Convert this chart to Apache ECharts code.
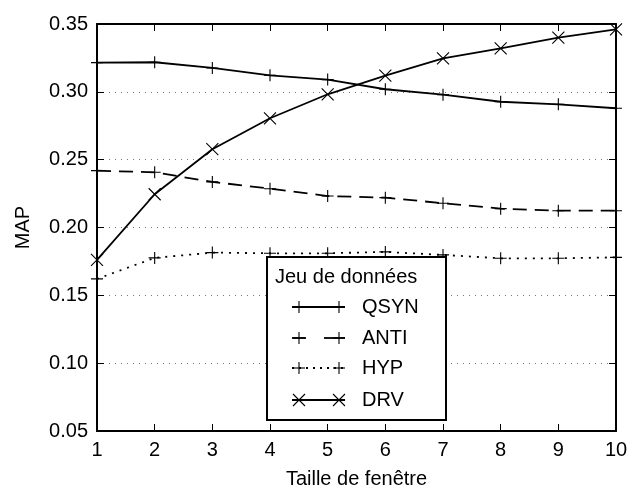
<!DOCTYPE html>
<html><head><meta charset="utf-8">
<script src="https://cdn.jsdelivr.net/npm/echarts@6/dist/echarts.min.js"></script>
<style>html,body{margin:0;padding:0;background:#fff}#c{width:631px;height:489px}</style>
</head><body><div id="c"></div>
<script>
const windowSizes = [1,2,3,4,5,6,7,8,9,10];
const qsyn = [0.3215,0.3218,0.3176,0.3122,0.3090,0.3019,0.2979,0.2927,0.2908,0.2879];
const anti = [0.2419,0.2407,0.2336,0.2286,0.2232,0.2220,0.2179,0.2139,0.2124,0.2124];
const hyp  = [0.1621,0.1776,0.1815,0.1810,0.1810,0.1820,0.1798,0.1773,0.1773,0.1780];
const drv  = [0.1761,0.2245,0.2577,0.2805,0.2982,0.3119,0.3247,0.3321,0.3399,0.3461];
const seriesNames = ['QSYN','ANTI','HYP','DRV'];
const legendTitle = 'Jeu de données';
const xName = 'Taille de fenêtre';
const yName = 'MAP';

const FONT = 'Liberation Sans';
const FS = 20;
const PLUS = 'path://M5,0L5,10M0,5L10,5';
const CROSS = 'path://M0,0L10,10M10,0L0,10';
function pairs(arr){ return arr.map((v,i)=>[windowSizes[i], v]); }
function mk(name, data, sym, size, lineType){
  return {
    name, type:'line', data: pairs(data), symbol: sym, symbolSize: size,
    showSymbol:true, animation:false,
    lineStyle:{color:'#000', width:1.8, type: lineType},
    itemStyle:{color:'none', borderColor:'#000', borderWidth:1.1},
    emphasis:{disabled:true}, z:5
  };
}
const chart = echarts.init(document.getElementById('c'), null, {renderer:'canvas'});
const axisCommon = {
  axisLine:{show:true, lineStyle:{color:'#000', width:2}},
  axisTick:{show:true, inside:true, length:7, lineStyle:{color:'#000', width:1}},
};
// legend graphics
const LX = 267, LY = 257, LW = 179, LH = 163;
const rowY = [307, 338, 368, 400];
const syms = ['plus','plus','plus','cross'];
const g = [{type:'rect', shape:{x:LX, y:LY, width:LW, height:LH}, style:{fill:'#fff', stroke:'#000', lineWidth:2}, z:100},
  {type:'text', x:LX+8, y:LY+20, style:{text:legendTitle, font:FS+'px "'+FONT+'"', fill:'#000', textVerticalAlign:'middle'}, z:101}];
function seg(x1,y1,x2,y2,w,dash){ return {type:'line', shape:{x1,y1,x2,y2}, style:{stroke:'#000', lineWidth:w, lineDash:dash||null}, z:101}; }
seriesNames.forEach((n,i)=>{
  const y = rowY[i];
  if (i===1) { g.push(seg(292,y,306,y,1.8)); g.push(seg(324,y,345,y,1.8)); }
  else if (i===2) { g.push(seg(292,y,345,y,1.8,[2,5])); }
  else { g.push(seg(292,y,345,y,1.8)); }
  [299,339].forEach(cx=>{
    if (syms[i]==='plus') {
      g.push(seg(cx-6,y,cx+6,y,1.1));
      g.push(seg(cx,y-6,cx,y+6,1.1));
    } else {
      g.push(seg(cx-6,y-6,cx+6,y+6,1.1));
      g.push(seg(cx+6,y-6,cx-6,y+6,1.1));
    }
  });
  g.push({type:'text', x:362, y:y, style:{text:n, font:FS+'px "'+FONT+'"', fill:'#000', textVerticalAlign:'middle'}, z:101});
});
chart.setOption({
  animation:false,
  backgroundColor:'#fff',
  grid:{left:97, right:15, top:24, bottom:58, containLabel:false, outerBoundsMode:'none'},
  xAxis:[
    Object.assign({type:'value', min:1, max:10, interval:1, position:'bottom',
      name:xName, nameLocation:'middle', nameGap:38,
      nameTextStyle:{fontFamily:FONT, fontSize:FS, color:'#000'},
      axisLabel:{fontFamily:FONT, fontSize:FS, color:'#000', margin:9},
      splitLine:{show:false}}, axisCommon),
    Object.assign({type:'value', min:1, max:10, interval:1, position:'top',
      axisLabel:{show:false}, splitLine:{show:false}}, axisCommon)
  ],
  yAxis:[
    Object.assign({type:'value', min:0.05, max:0.35, interval:0.05, position:'left',
      name:yName, nameLocation:'middle', nameGap:64,
      nameTextStyle:{fontFamily:FONT, fontSize:FS, color:'#000'},
      axisLabel:{fontFamily:FONT, fontSize:FS, color:'#000', margin:9, formatter:v=>v.toFixed(2)},
      splitLine:{show:true, lineStyle:{color:'#777', width:1, type:[1,5]}}}, axisCommon),
    Object.assign({type:'value', min:0.05, max:0.35, interval:0.05, position:'right',
      axisLabel:{show:false}, splitLine:{show:false}}, axisCommon)
  ],
  series:[
    mk(seriesNames[0], qsyn, PLUS, 12, 'solid'),
    mk(seriesNames[1], anti, PLUS, 12, [14,8]),
    mk(seriesNames[2], hyp, PLUS, 12, [2,6]),
    mk(seriesNames[3], drv, CROSS, 12, 'solid')
  ],
  graphic: g
});
</script></body></html>
